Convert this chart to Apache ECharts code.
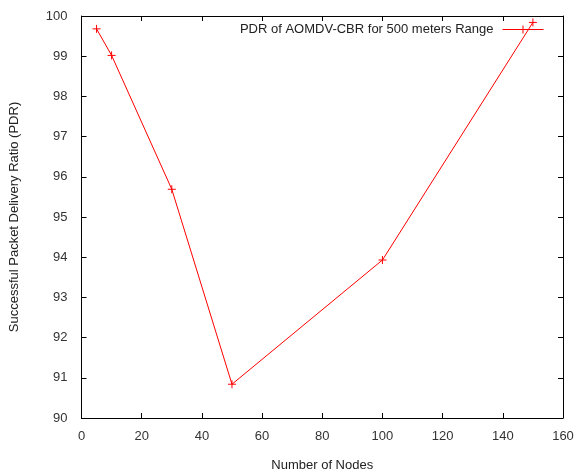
<!DOCTYPE html>
<html><head><meta charset="utf-8">
<script src="https://cdn.jsdelivr.net/npm/echarts@6/dist/echarts.min.js"></script>
<style>html,body{margin:0;padding:0;background:#fff}#c{width:577px;height:475px}</style>
</head><body><div id="c"></div>
<script>
const nodes = [5, 10, 30, 50, 100, 150];
const pdr = [99.68, 99.02, 95.69, 90.84, 93.93, 99.84];
const seriesName = 'PDR of AOMDV-CBR for 500 meters Range';
const xTitle = 'Number of Nodes';
const yTitle = 'Successful Packet Delivery Ratio (PDR)';

const font = 'Liberation Sans, Arial, sans-serif';
const plus = 'path://M0,5L10,5M5,0L5,10';
const chart = echarts.init(document.getElementById('c'), null, {renderer: 'canvas'});
const axisBase = {
  min: 0, max: 160, interval: 20,
  axisLine: {show: true, onZero: false, lineStyle: {color: '#000', width: 1}},
  axisTick: {show: true, inside: true, length: 5, lineStyle: {color: '#000'}},
  splitLine: {show: false}
};
chart.setOption({
  animation: false,
  backgroundColor: '#fff',
  grid: {left: 81.5, right: 14, top: 16, bottom: 57, containLabel: false, outerBoundsMode: 'none'},
  legend: {
    top: 18, right: 28, align: 'right',
    icon: plus, symbolKeepAspect: false,
    itemWidth: 41, itemHeight: 8, itemGap: 10,
    textStyle: {fontFamily: font, fontSize: 13, color: '#222', padding: [0, 4, 0, 0]},
    itemStyle: {color: 'rgba(0,0,0,0)', borderColor: '#ff0000', borderWidth: 1},
    data: [{name: seriesName}]
  },
  xAxis: [
    Object.assign({}, axisBase, {
      type: 'value', position: 'bottom',
      name: xTitle, nameLocation: 'middle', nameGap: 41,
      nameTextStyle: {fontFamily: font, fontSize: 13, color: '#222'},
      axisLabel: {fontFamily: font, fontSize: 13, color: '#333', margin: 12}
    }),
    Object.assign({}, axisBase, {type: 'value', position: 'top', axisLabel: {show: false}})
  ],
  yAxis: [
    Object.assign({}, axisBase, {
      type: 'value', position: 'left', min: 90, max: 100, interval: 1,
      name: yTitle, nameLocation: 'middle', nameGap: 61,
      nameTextStyle: {fontFamily: font, fontSize: 13, color: '#222'},
      axisLabel: {fontFamily: font, fontSize: 13, color: '#333', margin: 14}
    }),
    Object.assign({}, axisBase, {type: 'value', position: 'right', min: 90, max: 100, interval: 1, axisLabel: {show: false}})
  ],
  series: [{
    name: seriesName,
    type: 'line',
    xAxisIndex: 0, yAxisIndex: 0,
    data: nodes.map((n, i) => [n, pdr[i]]),
    symbol: plus, symbolSize: 8,
    showAllSymbol: true,
    lineStyle: {color: '#ff0000', width: 1},
    itemStyle: {color: 'rgba(0,0,0,0)', borderColor: '#ff0000', borderWidth: 1},
    emphasis: {disabled: true}
  }]
});
</script></body></html>
